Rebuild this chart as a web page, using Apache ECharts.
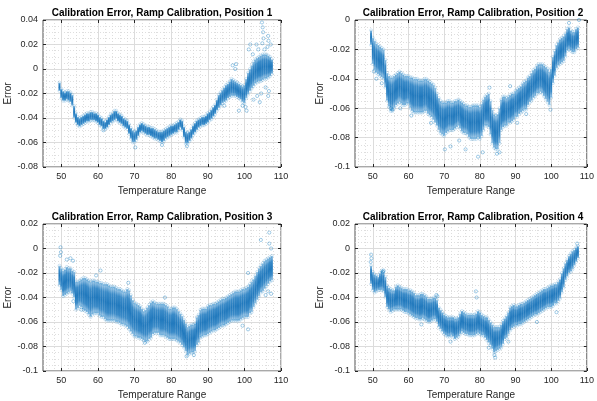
<!DOCTYPE html>
<html>
<head>
<meta charset="utf-8">
<style>
  html, body { margin: 0; padding: 0; background: #fff; }
  #chart { width: 597px; height: 401px; }
</style>
<script src="https://cdn.jsdelivr.net/npm/echarts@6/dist/echarts.min.js"></script>
</head>
<body>
<div id="chart"></div>
<script>
// temperature samples (0.5 degree steps) shared by all four positions
const temps = [
  49.5, 50, 50.5, 51, 51.5, 52, 52.5, 53, 53.5, 54,
  54.5, 55, 55.5, 56, 56.5, 57, 57.5, 58, 58.5, 59,
  59.5, 60, 60.5, 61, 61.5, 62, 62.5, 63, 63.5, 64,
  64.5, 65, 65.5, 66, 66.5, 67, 67.5, 68, 68.5, 69,
  69.5, 70, 70.5, 71, 71.5, 72, 72.5, 73, 73.5, 74,
  74.5, 75, 75.5, 76, 76.5, 77, 77.5, 78, 78.5, 79,
  79.5, 80, 80.5, 81, 81.5, 82, 82.5, 83, 83.5, 84,
  84.5, 85, 85.5, 86, 86.5, 87, 87.5, 88, 88.5, 89,
  89.5, 90, 90.5, 91, 91.5, 92, 92.5, 93, 93.5, 94,
  94.5, 95, 95.5, 96, 96.5, 97, 97.5, 98, 98.5, 99,
  99.5, 100, 100.5, 101, 101.5, 102, 102.5, 103, 103.5, 104,
  104.5, 105, 105.5, 106, 106.5, 107, 107.5
];

// position 1: upper / lower edge of the dense error band
const hi1 = [
  -0.011, -0.016, -0.018, -0.019, -0.018, -0.018, -0.019, -0.021, -0.030, -0.036,
  -0.039, -0.040, -0.039, -0.038, -0.037, -0.036, -0.036, -0.035, -0.035, -0.036,
  -0.036, -0.037, -0.039, -0.040, -0.042, -0.043, -0.041, -0.039, -0.037, -0.036,
  -0.034, -0.034, -0.036, -0.037, -0.038, -0.040, -0.041, -0.042, -0.045, -0.048,
  -0.050, -0.051, -0.050, -0.047, -0.045, -0.044, -0.045, -0.046, -0.047, -0.047,
  -0.048, -0.048, -0.049, -0.050, -0.051, -0.051, -0.051, -0.050, -0.049, -0.048,
  -0.047, -0.046, -0.046, -0.045, -0.044, -0.043, -0.041, -0.042, -0.047, -0.051,
  -0.052, -0.051, -0.049, -0.046, -0.044, -0.042, -0.041, -0.040, -0.039, -0.039,
  -0.038, -0.036, -0.035, -0.033, -0.031, -0.029, -0.025, -0.021, -0.019, -0.017,
  -0.015, -0.013, -0.012, -0.010, -0.008, -0.009, -0.010, -0.011, -0.012, -0.013,
  -0.014, -0.013, -0.008, -0.003, 0.000, 0.003, 0.006, 0.008, 0.009, 0.010,
  0.011, 0.012, 0.012, 0.012, 0.011, 0.010, 0.008
];
const lo1 = [
  -0.018, -0.024, -0.026, -0.026, -0.025, -0.026, -0.027, -0.030, -0.040, -0.044,
  -0.046, -0.047, -0.046, -0.045, -0.044, -0.043, -0.043, -0.042, -0.042, -0.042,
  -0.043, -0.044, -0.046, -0.047, -0.049, -0.049, -0.048, -0.046, -0.044, -0.043,
  -0.042, -0.041, -0.043, -0.044, -0.045, -0.047, -0.048, -0.049, -0.053, -0.057,
  -0.060, -0.060, -0.058, -0.055, -0.052, -0.051, -0.052, -0.053, -0.054, -0.054,
  -0.055, -0.056, -0.057, -0.057, -0.058, -0.059, -0.060, -0.059, -0.057, -0.056,
  -0.055, -0.054, -0.053, -0.052, -0.052, -0.050, -0.048, -0.050, -0.056, -0.061,
  -0.061, -0.059, -0.057, -0.054, -0.052, -0.050, -0.048, -0.047, -0.046, -0.046,
  -0.045, -0.044, -0.042, -0.041, -0.039, -0.037, -0.034, -0.032, -0.030, -0.028,
  -0.027, -0.026, -0.024, -0.023, -0.022, -0.022, -0.022, -0.023, -0.024, -0.025,
  -0.027, -0.028, -0.024, -0.021, -0.018, -0.016, -0.014, -0.012, -0.011, -0.010,
  -0.010, -0.009, -0.008, -0.008, -0.007, -0.006, -0.004
];
const out1 = [
  [104.8, 0.038], [105, 0.034], [105.1, 0.030], [105.2, 0.025], [104.9, 0.021],
  [106.5, 0.027], [106.6, 0.023], [106.3, 0.018], [103.3, 0.020], [101.6, 0.020],
  [101.2, 0.016], [97.7, 0.004], [97.5, 0.000], [96.8, 0.003], [103.5, -0.022],
  [104.2, -0.027], [104.6, -0.020], [106.5, -0.022], [106.7, -0.018], [100.6, -0.034],
  [100.3, -0.031], [98.5, -0.034], [102.5, -0.025], [70.2, -0.064], [61.5, -0.050],
  [77.5, -0.062], [84.3, -0.063], [94.5, -0.030], [105.5, 0.016], [103.8, 0.016],
  [102.3, 0.012], [99.5, -0.030], [107.2, 0.020], [105.8, -0.015]
];

// position 2
const hi2 = [
  -0.007, -0.012, -0.014, -0.016, -0.017, -0.018, -0.019, -0.020, -0.027, -0.036,
  -0.038, -0.039, -0.039, -0.038, -0.037, -0.036, -0.035, -0.036, -0.037, -0.038,
  -0.038, -0.038, -0.039, -0.039, -0.040, -0.040, -0.040, -0.041, -0.041, -0.041,
  -0.040, -0.040, -0.041, -0.042, -0.043, -0.044, -0.046, -0.050, -0.053, -0.055,
  -0.056, -0.056, -0.056, -0.055, -0.055, -0.056, -0.056, -0.055, -0.055, -0.054,
  -0.055, -0.056, -0.057, -0.058, -0.058, -0.059, -0.059, -0.058, -0.058, -0.058,
  -0.058, -0.059, -0.057, -0.054, -0.052, -0.051, -0.050, -0.055, -0.061, -0.064,
  -0.065, -0.064, -0.060, -0.054, -0.052, -0.052, -0.053, -0.052, -0.051, -0.050,
  -0.050, -0.048, -0.047, -0.046, -0.045, -0.043, -0.042, -0.041, -0.039, -0.038,
  -0.036, -0.034, -0.033, -0.031, -0.030, -0.030, -0.030, -0.031, -0.032, -0.033,
  -0.035, -0.033, -0.025, -0.021, -0.017, -0.015, -0.013, -0.012, -0.011, -0.009,
  -0.006, -0.005, -0.007, -0.008, -0.008, -0.006, -0.005
];
const lo2 = [
  -0.017, -0.030, -0.034, -0.036, -0.037, -0.038, -0.039, -0.040, -0.046, -0.055,
  -0.059, -0.062, -0.062, -0.060, -0.058, -0.057, -0.056, -0.057, -0.058, -0.058,
  -0.057, -0.057, -0.060, -0.062, -0.063, -0.063, -0.063, -0.063, -0.063, -0.063,
  -0.062, -0.062, -0.064, -0.065, -0.066, -0.068, -0.070, -0.072, -0.075, -0.077,
  -0.078, -0.079, -0.077, -0.076, -0.075, -0.075, -0.075, -0.074, -0.073, -0.072,
  -0.074, -0.076, -0.077, -0.077, -0.078, -0.080, -0.081, -0.081, -0.081, -0.081,
  -0.080, -0.081, -0.079, -0.075, -0.072, -0.072, -0.073, -0.078, -0.084, -0.087,
  -0.088, -0.088, -0.084, -0.075, -0.073, -0.072, -0.072, -0.070, -0.070, -0.069,
  -0.068, -0.066, -0.066, -0.064, -0.063, -0.062, -0.061, -0.061, -0.058, -0.056,
  -0.055, -0.053, -0.052, -0.050, -0.050, -0.049, -0.050, -0.052, -0.054, -0.056,
  -0.058, -0.053, -0.043, -0.038, -0.033, -0.031, -0.030, -0.029, -0.028, -0.025,
  -0.021, -0.020, -0.021, -0.022, -0.022, -0.020, -0.019
];
const out2 = [
  [79.5, -0.093], [80.8, -0.090], [70.2, -0.088], [71.8, -0.086], [76, -0.088],
  [84.8, -0.091], [85.5, -0.090], [82.7, -0.046], [88.5, -0.045], [55, -0.060],
  [55.5, -0.061], [107.8, 0.000], [105, -0.002], [51, -0.040], [52.5, -0.043],
  [50.3, -0.035], [99.8, -0.061], [66.3, -0.070], [74.2, -0.082], [90.5, -0.070],
  [93, -0.064], [60.8, -0.065], [57.7, -0.060]
];

// position 3
const hi3 = [
  -0.014, -0.016, -0.018, -0.017, -0.015, -0.016, -0.016, -0.018, -0.019, -0.027,
  -0.027, -0.026, -0.025, -0.024, -0.024, -0.025, -0.026, -0.027, -0.026, -0.026,
  -0.027, -0.027, -0.028, -0.028, -0.029, -0.029, -0.029, -0.030, -0.031, -0.031,
  -0.031, -0.032, -0.033, -0.033, -0.034, -0.035, -0.035, -0.033, -0.034, -0.038,
  -0.042, -0.044, -0.045, -0.046, -0.047, -0.049, -0.051, -0.050, -0.048, -0.046,
  -0.044, -0.043, -0.044, -0.045, -0.045, -0.045, -0.045, -0.045, -0.046, -0.047,
  -0.049, -0.049, -0.048, -0.048, -0.049, -0.051, -0.053, -0.055, -0.058, -0.061,
  -0.064, -0.063, -0.062, -0.062, -0.061, -0.056, -0.054, -0.050, -0.049, -0.049,
  -0.049, -0.047, -0.046, -0.046, -0.045, -0.045, -0.044, -0.043, -0.042, -0.041,
  -0.041, -0.040, -0.039, -0.038, -0.037, -0.036, -0.035, -0.035, -0.035, -0.034,
  -0.033, -0.033, -0.032, -0.031, -0.029, -0.027, -0.025, -0.022, -0.019, -0.016,
  -0.014, -0.012, -0.010, -0.009, -0.008, -0.007, -0.006
];
const lo3 = [
  -0.030, -0.034, -0.039, -0.038, -0.037, -0.036, -0.035, -0.037, -0.040, -0.050,
  -0.049, -0.047, -0.048, -0.050, -0.051, -0.052, -0.054, -0.056, -0.054, -0.053,
  -0.053, -0.053, -0.055, -0.056, -0.056, -0.058, -0.059, -0.059, -0.059, -0.059,
  -0.059, -0.060, -0.060, -0.061, -0.062, -0.062, -0.063, -0.064, -0.066, -0.068,
  -0.070, -0.072, -0.072, -0.073, -0.073, -0.074, -0.075, -0.076, -0.076, -0.074,
  -0.073, -0.070, -0.069, -0.069, -0.069, -0.071, -0.071, -0.071, -0.072, -0.073,
  -0.074, -0.074, -0.074, -0.074, -0.075, -0.076, -0.077, -0.079, -0.081, -0.084,
  -0.087, -0.086, -0.085, -0.085, -0.084, -0.079, -0.077, -0.073, -0.072, -0.071,
  -0.071, -0.070, -0.069, -0.068, -0.067, -0.067, -0.066, -0.065, -0.064, -0.063,
  -0.063, -0.062, -0.061, -0.060, -0.059, -0.059, -0.059, -0.059, -0.059, -0.058,
  -0.057, -0.056, -0.056, -0.056, -0.053, -0.052, -0.048, -0.045, -0.042, -0.039,
  -0.036, -0.035, -0.033, -0.031, -0.029, -0.027, -0.026
];
const out3 = [
  [49.8, 0.001], [49.9, -0.003], [49.7, -0.006], [51.5, -0.009], [52.5, -0.008],
  [53.2, -0.010], [60.7, -0.018], [59.5, -0.022], [68.3, -0.028], [78.3, -0.040],
  [72.8, -0.077], [84.2, -0.088], [86.2, -0.087], [101, -0.020], [101, -0.066],
  [99.5, -0.063], [104.5, 0.007], [106.8, 0.013], [106.8, 0.004], [107.3, 0.000],
  [107.3, -0.037], [106.5, -0.035], [105.8, -0.038], [53.3, -0.043], [55.5, -0.050]
];

// position 4
const hi4 = [
  -0.014, -0.019, -0.021, -0.022, -0.023, -0.020, -0.018, -0.019, -0.023, -0.030,
  -0.032, -0.033, -0.034, -0.034, -0.031, -0.030, -0.031, -0.032, -0.033, -0.033,
  -0.033, -0.034, -0.034, -0.035, -0.036, -0.038, -0.038, -0.038, -0.037, -0.037,
  -0.038, -0.039, -0.041, -0.041, -0.041, -0.040, -0.040, -0.042, -0.048, -0.050,
  -0.052, -0.054, -0.055, -0.056, -0.056, -0.056, -0.056, -0.057, -0.057, -0.056,
  -0.053, -0.051, -0.052, -0.053, -0.054, -0.054, -0.054, -0.054, -0.054, -0.053,
  -0.051, -0.052, -0.054, -0.055, -0.056, -0.056, -0.058, -0.060, -0.062, -0.064,
  -0.064, -0.064, -0.064, -0.062, -0.059, -0.057, -0.055, -0.052, -0.048, -0.047,
  -0.046, -0.047, -0.047, -0.046, -0.045, -0.045, -0.044, -0.043, -0.042, -0.041,
  -0.040, -0.039, -0.038, -0.037, -0.036, -0.035, -0.034, -0.033, -0.033, -0.032,
  -0.031, -0.030, -0.030, -0.029, -0.029, -0.027, -0.025, -0.020, -0.016, -0.012,
  -0.009, -0.006, -0.004, -0.002, -0.001, 0.001, 0.002
];
const lo4 = [
  -0.029, -0.034, -0.036, -0.035, -0.034, -0.034, -0.034, -0.035, -0.040, -0.048,
  -0.050, -0.052, -0.051, -0.050, -0.050, -0.050, -0.050, -0.050, -0.051, -0.052,
  -0.052, -0.053, -0.054, -0.055, -0.056, -0.057, -0.057, -0.058, -0.058, -0.057,
  -0.058, -0.059, -0.060, -0.060, -0.059, -0.058, -0.058, -0.060, -0.064, -0.066,
  -0.068, -0.070, -0.071, -0.072, -0.072, -0.071, -0.072, -0.074, -0.073, -0.072,
  -0.070, -0.068, -0.069, -0.070, -0.070, -0.071, -0.071, -0.071, -0.071, -0.070,
  -0.069, -0.070, -0.071, -0.071, -0.073, -0.075, -0.077, -0.079, -0.082, -0.085,
  -0.084, -0.083, -0.082, -0.081, -0.078, -0.074, -0.073, -0.070, -0.067, -0.065,
  -0.064, -0.063, -0.063, -0.062, -0.062, -0.061, -0.060, -0.059, -0.058, -0.057,
  -0.056, -0.055, -0.054, -0.054, -0.053, -0.052, -0.051, -0.050, -0.049, -0.048,
  -0.048, -0.048, -0.047, -0.045, -0.045, -0.043, -0.041, -0.036, -0.032, -0.026,
  -0.023, -0.020, -0.019, -0.017, -0.014, -0.011, -0.008
];
const out4 = [
  [49.5, -0.005], [49.6, -0.008], [49.4, -0.011], [67.8, -0.038], [68.1, -0.039],
  [78.9, -0.035], [79.1, -0.040], [82.5, -0.081], [84.3, -0.089], [84.1, -0.087],
  [53, -0.018], [52.8, -0.019], [107.3, 0.004], [101.5, -0.052], [96, -0.060],
  [88, -0.076], [71.8, -0.076], [63.6, -0.062]
];

const titles = [
  'Calibration Error, Ramp Calibration, Position 1',
  'Calibration Error, Ramp Calibration, Position 2',
  'Calibration Error, Ramp Calibration, Position 3',
  'Calibration Error, Ramp Calibration, Position 4'
];
const xTicks = [50, 60, 70, 80, 90, 100, 110];
const xMinorTicks = [46, 48, 52, 54, 56, 58, 62, 64, 66, 68, 72, 74, 76, 78,
  82, 84, 86, 88, 92, 94, 96, 98, 102, 104, 106, 108];
const yRanges = [[-0.08, 0.04], [-0.1, 0], [-0.1, 0.02], [-0.1, 0.02]];

const panels = [
  { hi: hi1, lo: lo1, out: out1 },
  { hi: hi2, lo: lo2, out: out2 },
  { hi: hi3, lo: lo3, out: out3 },
  { hi: hi4, lo: lo4, out: out4 }
];

const boxes = [
  { left: 43, top: 20, width: 238, height: 147 },
  { left: 355, top: 20, width: 236, height: 147 },
  { left: 43, top: 224, width: 238, height: 148 },
  { left: 355, top: 224, width: 236, height: 148 }
];

const FONT = '"Liberation Sans", Arial, Helvetica, sans-serif';
const INK = '#262626';
const BLUE = '#0072BD';

// dense part of the scatter: lighter fringe, saturated core
const bandFill = {
  type: 'linear', x: 0, y: 0, x2: 0, y2: 1,
  colorStops: [
    { offset: 0, color: '#aacfea' },
    { offset: 0.22, color: '#3b8bc8' },
    { offset: 0.5, color: '#2179bd' },
    { offset: 0.78, color: '#3b8bc8' },
    { offset: 1, color: '#aacfea' }
  ]
};

function bandItem(params, api) {
  const t = api.value(0);
  const top = api.coord([t, api.value(1)]);
  const bot = api.coord([t, api.value(2)]);
  const w = api.size([0.5, 0])[0] + 0.2;
  return {
    type: 'rect',
    shape: { x: top[0] - w / 2, y: top[1], width: w, height: bot[1] - top[1] },
    style: { fill: bandFill }
  };
}

const chart = echarts.init(document.getElementById('chart'), null, { renderer: 'canvas' });

const grid = [], xAxis = [], yAxis = [], series = [], graphic = [];

boxes.forEach((b, i) => {
  grid.push(Object.assign({ show: true, borderColor: INK, borderWidth: 0.8, backgroundColor: '#fff' }, b));

  xAxis.push({
    gridIndex: i, type: 'value', min: 45, max: 110, position: 'bottom',
    axisLine: { show: false, onZero: false },
    axisTick: { inside: true, length: 3, customValues: xTicks, lineStyle: { color: INK } },
    axisLabel: { customValues: xTicks, fontSize: 9, color: INK, margin: 5, fontFamily: FONT },
    splitLine: { show: true, lineStyle: { color: '#dcdcdc', width: 1 } },
    name: 'Temperature Range', nameLocation: 'middle', nameGap: 19,
    nameTextStyle: { fontSize: 10, color: INK, fontFamily: FONT }
  });
  xAxis.push({
    gridIndex: i, type: 'value', min: 45, max: 110, position: 'top',
    axisLine: { show: false, onZero: false },
    axisTick: { inside: true, length: 3, customValues: xTicks, lineStyle: { color: INK } },
    axisLabel: { show: false },
    splitLine: { show: false }
  });
  xAxis.push({
    gridIndex: i, type: 'value', min: 45, max: 110,
    axisLine: { show: false, onZero: false },
    axisTick: { show: false, customValues: xMinorTicks },
    axisLabel: { show: false },
    splitLine: { show: true, lineStyle: { color: '#d6d6d6', width: 0.8, type: [1, 2] } }
  });

  const yr = yRanges[i];
  yAxis.push({
    gridIndex: i, type: 'value', min: yr[0], max: yr[1], interval: 0.02, position: 'left',
    axisLine: { show: false, onZero: false },
    axisTick: { inside: true, length: 3, lineStyle: { color: INK } },
    axisLabel: { fontSize: 9, color: INK, margin: 5, fontFamily: FONT },
    splitLine: { show: true, lineStyle: { color: '#dcdcdc', width: 1 } },
    minorTick: { show: false, splitNumber: 4 },
    minorSplitLine: { show: true, lineStyle: { color: '#d6d6d6', width: 0.8, type: [1, 2] } },
    name: 'Error', nameLocation: 'middle', nameGap: 22,
    nameTextStyle: { fontSize: 10, color: INK, fontFamily: FONT }
  });
  yAxis.push({
    gridIndex: i, type: 'value', min: yr[0], max: yr[1], interval: 0.02, position: 'right',
    axisLine: { show: false, onZero: false },
    axisTick: { inside: true, length: 3, lineStyle: { color: INK } },
    axisLabel: { show: false },
    splitLine: { show: false }
  });

  const p = panels[i];
  const bandData = temps.map((t, k) => [t, p.hi[k], p.lo[k]]);
  const edgeData = temps.map((t, k) => [t, p.hi[k]]).concat(temps.map((t, k) => [t, p.lo[k]]));

  series.push({
    type: 'custom', xAxisIndex: 3 * i, yAxisIndex: 2 * i,
    renderItem: bandItem, data: bandData, encode: { x: 0, y: [1, 2] },
    clip: true, silent: true, z: 3
  });
  series.push({
    type: 'scatter', xAxisIndex: 3 * i, yAxisIndex: 2 * i,
    data: edgeData, symbol: 'circle', symbolSize: 3,
    itemStyle: { color: 'rgba(255,255,255,0)', borderColor: BLUE, borderWidth: 0.5, opacity: 0.35 },
    silent: true, z: 4
  });
  series.push({
    type: 'scatter', xAxisIndex: 3 * i, yAxisIndex: 2 * i,
    data: p.out, symbol: 'circle', symbolSize: 3.2,
    itemStyle: { color: 'rgba(255,255,255,0)', borderColor: BLUE, borderWidth: 0.6, opacity: 0.6 },
    silent: true, z: 4
  });

  graphic.push({
    type: 'text', x: b.left + b.width / 2, y: b.top - 7,
    style: {
      text: titles[i], fill: '#000', font: 'bold 10px ' + FONT,
      align: 'center', verticalAlign: 'middle', textAlign: 'center', textVerticalAlign: 'middle'
    }
  });
});

chart.setOption({
  animation: false,
  backgroundColor: '#fff',
  grid: grid,
  xAxis: xAxis,
  yAxis: yAxis,
  series: series,
  graphic: graphic
});
</script>
</body>
</html>
